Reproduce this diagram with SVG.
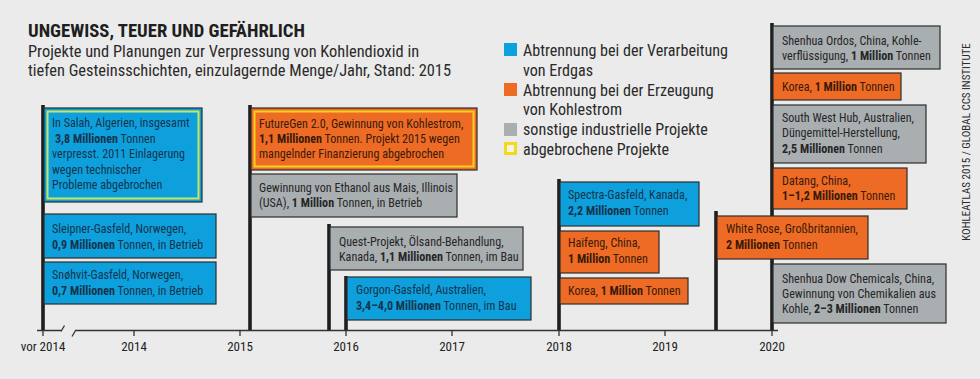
<svg xmlns="http://www.w3.org/2000/svg" width="980" height="379" viewBox="0 0 980 379">
<style>
text{font-family:"Roboto Condensed","Liberation Sans Narrow","DejaVu Sans Condensed","Roboto",sans-serif;}
.t{font-size:12.1px;}
.tb{fill:#14344d;}
.to{fill:#3a1a08;}
.tg{fill:#262626;}
.b{font-weight:bold;}
.box{stroke:#2e2e2e;stroke-width:1.2;}
.blue{fill:#0ea0dc;}
.orange{fill:#ee6b26;}
.gray{fill:#a9aeb1;}
.pole{stroke:#1e1e1e;stroke-width:3.6;}
.axis{stroke:#333;stroke-width:1.3;fill:none;}
.lab{font-size:13px;fill:#222;text-anchor:middle;}
.leg{font-size:16.1px;fill:#2a2a2a;}
</style>
<rect width="980" height="379" fill="#ebebeb"/>
<g id="title">
<text x="28" y="37" font-size="18.7" font-weight="bold" fill="#1e1e1e">UNGEWISS, TEUER UND GEFÄHRLICH</text>
<text x="28" y="57" font-size="16.4" fill="#2a2a2a">Projekte und Planungen zur Verpressung von Kohlendioxid in</text>
<text x="28" y="76" font-size="16.4" fill="#2a2a2a">tiefen Gesteinsschichten, einzulagernde Menge/Jahr, Stand: 2015</text>
</g>
<g id="legend">
<rect x="504" y="43" width="13" height="13" class="blue"/>
<text x="523" y="56" class="leg">Abtrennung bei der Verarbeitung</text>
<text x="523" y="76" class="leg">von Erdgas</text>
<rect x="504" y="83" width="13" height="13" class="orange"/>
<text x="523" y="96" class="leg">Abtrennung bei der Erzeugung</text>
<text x="523" y="115" class="leg">von Kohlestrom</text>
<rect x="504" y="123" width="13" height="13" class="gray"/>
<text x="523" y="135" class="leg">sonstige industrielle Projekte</text>
<rect x="505.5" y="143.5" width="10" height="10" fill="#f3f3e6" stroke="#f2d91c" stroke-width="3"/>
<text x="523" y="155" class="leg">abgebrochene Projekte</text>
</g>
<text x="970" y="142" font-size="11" fill="#2a2a2a" text-anchor="middle" transform="rotate(-90 970 142)">KOHLEATLAS 2015 / GLOBAL CCS INSTITUTE</text>

<g id="connectors">
<line x1="43" y1="105" x2="43" y2="331" class="pole"/>
<line x1="250" y1="105" x2="250" y2="331" class="pole"/>
<line x1="329" y1="224" x2="329" y2="331" class="pole"/>
<line x1="346" y1="276" x2="346" y2="331" class="pole"/>
<line x1="559" y1="179" x2="559" y2="331" class="pole"/>
<line x1="716" y1="211" x2="716" y2="331" class="pole"/>
<line x1="772" y1="23" x2="772" y2="331" class="pole"/>
</g>

<g id="in-salah">
<rect x="44" y="108" width="158" height="94" class="box blue"/>
<rect x="47.5" y="111.5" width="151" height="87" fill="none" stroke="#c8e566" stroke-width="2"/>
<text class="t tb"><tspan x="52" y="127">In Salah, Algerien, insgesamt</tspan><tspan x="55" y="143"><tspan class="b">3,8 Millionen</tspan> Tonnen</tspan><tspan x="52" y="158">verpresst. 2011 Einlagerung</tspan><tspan x="52" y="174">wegen technischer</tspan><tspan x="52" y="189">Probleme abgebrochen</tspan></text>
</g>
<g id="sleipner">
<rect x="44" y="214" width="172" height="44" class="box blue"/>
<text class="t tb"><tspan x="52" y="233">Sleipner-Gasfeld, Norwegen,</tspan><tspan x="52" y="249"><tspan class="b">0,9 Millionen</tspan> Tonnen, in Betrieb</tspan></text>
</g>
<g id="snohvit">
<rect x="44" y="262" width="172" height="42" class="box blue"/>
<text class="t tb"><tspan x="52" y="279">Snøhvit-Gasfeld, Norwegen,</tspan><tspan x="52" y="295"><tspan class="b">0,7 Millionen</tspan> Tonnen, in Betrieb</tspan></text>
</g>
<g id="futuregen">
<rect x="251" y="108" width="226" height="62" class="box orange"/>
<rect x="254.5" y="111.5" width="219" height="55" fill="none" stroke="#f6d21e" stroke-width="2"/>
<text class="t to"><tspan x="259" y="128">FutureGen 2.0, Gewinnung von Kohlestrom,</tspan><tspan x="259" y="143"><tspan class="b">1,1 Millionen</tspan> Tonnen. Projekt 2015 wegen</tspan><tspan x="259" y="158">mangelnder Finanzierung abgebrochen</tspan></text>
</g>
<g id="ethanol">
<rect x="251" y="174" width="206" height="43" class="box gray"/>
<text class="t tg"><tspan x="259" y="192">Gewinnung von Ethanol aus Mais, Illinois</tspan><tspan x="259" y="207">(USA), <tspan class="b">1 Million</tspan> Tonnen, in Betrieb</tspan></text>
</g>
<g id="quest">
<rect x="330" y="227" width="193" height="43" class="box gray"/>
<text class="t tg"><tspan x="339" y="246">Quest-Projekt, Ölsand-Behandlung,</tspan><tspan x="339" y="261">Kanada, <tspan class="b">1,1 Millionen</tspan> Tonnen, im Bau</tspan></text>
</g>
<g id="gorgon">
<rect x="347" y="277" width="184" height="43" class="box blue"/>
<text class="t tb"><tspan x="356" y="294">Gorgon-Gasfeld, Australien,</tspan><tspan x="356" y="310"><tspan class="b">3,4–4,0 Millionen</tspan> Tonnen, im Bau</tspan></text>
</g>
<g id="spectra">
<rect x="560" y="182" width="139" height="44" class="box blue"/>
<text class="t tb"><tspan x="568" y="199">Spectra-Gasfeld, Kanada,</tspan><tspan x="568" y="215"><tspan class="b">2,2 Millionen</tspan> Tonnen</tspan></text>
</g>
<g id="haifeng">
<rect x="560" y="231" width="99" height="42" class="box orange"/>
<text class="t to"><tspan x="568" y="247">Haifeng, China,</tspan><tspan x="568" y="263"><tspan class="b">1 Million</tspan> Tonnen</tspan></text>
</g>
<g id="korea-2018">
<rect x="560" y="278" width="128" height="26" class="box orange"/>
<text class="t to" x="568" y="295">Korea, <tspan class="b">1 Million</tspan> Tonnen</text>
</g>
<g id="white-rose">
<rect x="717" y="216" width="151" height="43" class="box orange"/>
<text class="t to"><tspan x="726" y="233">White Rose, Großbritannien,</tspan><tspan x="726" y="249"><tspan class="b">2 Millionen</tspan> Tonnen</tspan></text>
</g>
<g id="shenhua-ordos">
<rect x="773" y="26" width="167" height="43" class="box gray"/>
<text class="t tg"><tspan x="782" y="45">Shenhua Ordos, China, Kohle-</tspan><tspan x="782" y="60">verflüssigung, <tspan class="b">1 Million</tspan> Tonnen</tspan></text>
</g>
<g id="korea-2020">
<rect x="773" y="73" width="128" height="27" class="box orange"/>
<text class="t to" x="782" y="91">Korea, <tspan class="b">1 Million</tspan> Tonnen</text>
</g>
<g id="south-west-hub">
<rect x="773" y="105" width="153" height="58" class="box gray"/>
<text class="t tg"><tspan x="782" y="122">South West Hub, Australien,</tspan><tspan x="782" y="137">Düngemittel-Herstellung,</tspan><tspan x="782" y="153"><tspan class="b">2,5 Millionen</tspan> Tonnen</tspan></text>
</g>
<g id="datang">
<rect x="773" y="168" width="134" height="41" class="box orange"/>
<text class="t to"><tspan x="782" y="185">Datang, China,</tspan><tspan x="782" y="200"><tspan class="b">1–1,2 Millionen</tspan> Tonnen</tspan></text>
</g>
<g id="shenhua-dow">
<rect x="773" y="264" width="173" height="59" class="box gray"/>
<text class="t tg"><tspan x="782" y="283">Shenhua Dow Chemicals, China,</tspan><tspan x="782" y="298">Gewinnung von Chemikalien aus</tspan><tspan x="782" y="313">Kohle, <tspan class="b">2–3 Millionen</tspan> Tonnen</tspan></text>
</g>

<g id="axis">
<path class="axis" d="M37 330.5H62M61 331.5L64.5 325.5M72 336.5L75.5 330.5M75 330.5H778"/>
<path class="axis" d="M43 330v6M134 330v6M240 330v6M346 330v6M452 330v6M559 330v6M665 330v6M772 330v6"/>
<text class="lab" x="43" y="351">vor 2014</text>
<text class="lab" x="134" y="351">2014</text>
<text class="lab" x="240" y="351">2015</text>
<text class="lab" x="346" y="351">2016</text>
<text class="lab" x="452" y="351">2017</text>
<text class="lab" x="559" y="351">2018</text>
<text class="lab" x="665" y="351">2019</text>
<text class="lab" x="772" y="351">2020</text>
</g>
</svg>
